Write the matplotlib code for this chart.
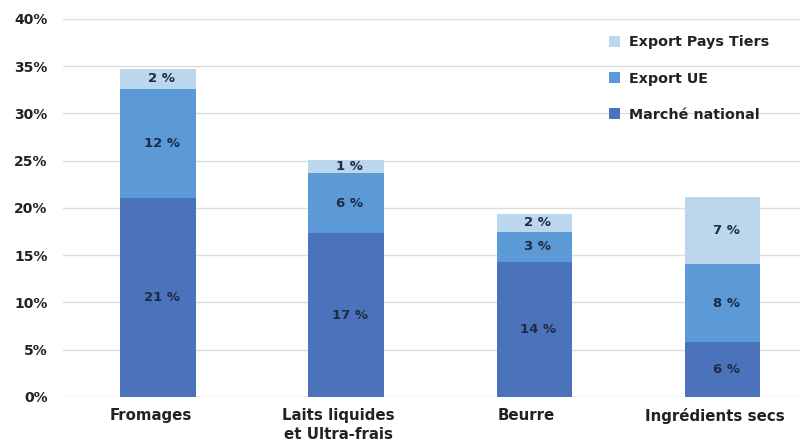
import matplotlib.pyplot as plt
import numpy as np

# Data (share of volume, %)
categories = ["Fromages", "Laits liquides\net Ultra-frais", "Beurre", "Ingrédients secs"]
marche_national = [21.0, 17.3, 14.3, 5.8]
export_ue = [11.6, 6.4, 3.2, 8.25]
export_tiers = [2.1, 1.4, 1.8, 7.15]

labels_national = ["21 %", "17 %", "14 %", "6 %"]
labels_ue = ["12 %", "6 %", "3 %", "8 %"]
labels_tiers = ["2 %", "1 %", "2 %", "7 %"]

series_names = ["Marché national", "Export UE", "Export Pays Tiers"]
colors = ["#4a73bb", "#5b9ad6", "#bcd6ee"]

plt.rcParams['font.family'] = ['DejaVu Sans']

fig = plt.figure(figsize=(8.06, 4.48), dpi=100)
ax = fig.add_axes([0.078, 0.114, 0.915, 0.844])

x = np.arange(len(categories))
width = 0.4
bottom = np.zeros(len(categories))
series = [marche_national, export_ue, export_tiers]
all_labels = [labels_national, labels_ue, labels_tiers]

for vals, name, col, labs in zip(series, series_names, colors, all_labels):
    vals = np.array(vals)
    ax.bar(x, vals, width, bottom=bottom, color=col, label=name, zorder=3)
    for xi, b, v, lab in zip(x, bottom, vals, labs):
        ax.text(xi + 0.02, b + v / 2, lab, ha="center", va="center",
                fontsize=9.5, fontweight="bold", color="#1f2a44", zorder=4)
    bottom += vals

ax.set_xlim(-0.505, 3.415)
ax.set_ylim(0, 40)
ax.set_yticks(np.arange(0, 41, 5))
ax.set_yticklabels([f"{v}%" for v in range(0, 41, 5)])
ax.set_xticks(x - 0.04)
ax.set_xticklabels(categories, ha="center", va="top", linespacing=1.35)

ax.grid(axis="y", color="#dddddd", linewidth=1, zorder=0)
for s in ax.spines.values():
    s.set_visible(False)
ax.tick_params(axis="both", length=0, colors="#222222")
ax.tick_params(axis="y", pad=11, labelsize=10)
ax.tick_params(axis="x", pad=8, labelsize=10.8)
for t in ax.get_xticklabels() + ax.get_yticklabels():
    t.set_fontweight("bold")

handles, lbls = ax.get_legend_handles_labels()
leg = ax.legend(handles[::-1], lbls[::-1], loc="upper right", bbox_to_anchor=(0.975, 0.99),
                frameon=False, handlelength=0.8, handleheight=0.8, handletextpad=0.6,
                labelspacing=1.55, prop={"weight": "bold", "size": 10.3})
for t in leg.get_texts():
    t.set_color("#222222")

fig.savefig("out.png", dpi=100)
